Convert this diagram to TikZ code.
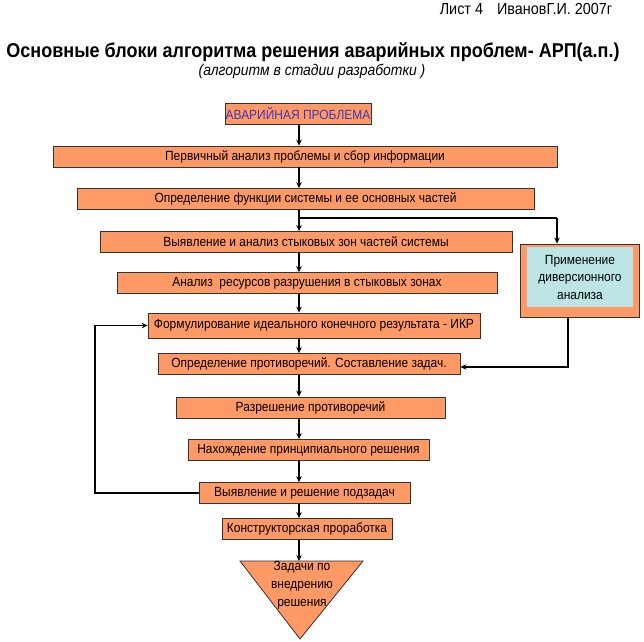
\documentclass[tikz,border=0pt]{standalone}
\usepackage{fontspec}
\setmainfont{Liberation Sans}[FakeStretch=0.9]
\usetikzlibrary{arrows.meta}
\definecolor{blokfill}{HTML}{FF9966}
\definecolor{analizfill}{HTML}{BDE5E5}
\definecolor{avartext}{HTML}{4038B8}

\begin{document}
\begin{tikzpicture}[x=1pt,y=-1pt,
		blok/.style={draw=black!80, fill=blokfill, line width=0.8pt, minimum height=21, inner sep=0pt, font=\fontsize{13.3}{15}\selectfont},
		strel/.style={line width=1.8pt, -{Stealth[length=6pt,width=5.5pt]}},
		liniya/.style={line width=1.8pt}]
		\useasboundingbox (0,0) rectangle (644,641);

		% headings
		\draw (526,14) node [anchor=base, font=\fontsize{16}{18}\selectfont] (list) {Лист 4\hspace{14pt}ИвановГ.И. 2007г};
		\draw (313,57) node [anchor=base, font=\fontsize{20}{24}\selectfont\bfseries] (titul) {Основные блоки алгоритма решения аварийных проблем- АРП(а.п.)};
		\draw (312,75) node [anchor=base, font=\fontsize{15.5}{17}\selectfont\itshape] (podtitul) {(алгоритм в стадии разработки )};

		% blocks
		\draw (298,113.5) node [blok, minimum width=146, text=avartext] (b0) {АВАРИЙНАЯ ПРОБЛЕМА};
		\draw (305,156.5) node [blok, minimum width=504] (b1) {Первичный анализ проблемы и сбор информации};
		\draw (305.5,199) node [blok, minimum width=457] (b2) {Определение функции системы и ее основных частей};
		\draw (306,242) node [blok, minimum width=412] (b3) {Выявление и анализ стыковых зон частей системы};
		\draw (307,283) node [blok, minimum width=380] (b4) {Анализ\ \ ресурсов разрушения в стыковых зонах};
		\draw (314,325.5) node [blok, minimum width=332, minimum height=25] (b5) {Формулирование идеального конечного результата - ИКР};
		\draw (309,364) node [blok, minimum width=302] (b6) {Определение противоречий. Составление задач.};
		\draw (310.5,407.5) node [blok, minimum width=269] (b7) {Разрешение противоречий};
		\draw (308.5,450) node [blok, minimum width=241] (b8) {Нахождение принципиального решения};
		\draw (304.5,493) node [blok, minimum width=211] (b9) {Выявление и решение подзадач};
		\draw (307,529) node [blok, minimum width=170] (b10) {Конструкторская проработка};

		% side block
		\draw (579.5,280.5) node [blok, minimum width=119, minimum height=73] (sb) {};
		\draw (580,277) node [fill=analizfill, minimum width=106, minimum height=60, align=center, inner sep=0pt, font=\fontsize{13.3}{17.5}\selectfont] (sbt) {Применение\\диверсионного\\анализа};

		% final triangle
		\draw [fill=blokfill, draw=black!80, line width=0.8pt] (240,561) -- (363,561) -- (300,639) -- cycle;
		\coordinate (tri) at (299,561);
		\draw (302,585) node [align=center, font=\fontsize{13.3}{18}\selectfont] (zadachi) {Задачи по\\внедрению\\решения};

		% helper coordinates
		\coordinate (os) at (299,0);
		\coordinate (vx) at (557,218);
		\coordinate (sx) at (568,0);
		\coordinate (lx) at (95,0);

		\draw
			(b0.south -| os) edge [strel] (b1.north -| os)
			(b1.south -| os) edge [strel] (b2.north -| os)
			(b2.south -| os) edge [strel] (b3.north -| os)
			(b3.south -| os) edge [strel] (b4.north -| os)
			(b4.south -| os) edge [strel] (b5.north -| os)
			(b5.south -| os) edge [strel] (b6.north -| os)
			(b6.south -| os) edge [strel] (b7.north -| os)
			(b7.south -| os) edge [strel] (b8.north -| os)
			(b8.south -| os) edge [strel] (b9.north -| os)
			(b9.south -| os) edge [strel] (b10.north -| os)
			(b10.south -| os) edge [strel] (tri)
		;
		\draw [liniya] (b2.south -| os) |- (vx);
		\draw [strel] (vx) -- (vx |- sb.north);
		\draw [strel] (sb.south -| sx) |- ([yshift=-3pt]b6.east);
		\draw [strel] (b9.west) -- (b9.west -| lx) |- (b5.west);
	\end{tikzpicture}
\end{document}
